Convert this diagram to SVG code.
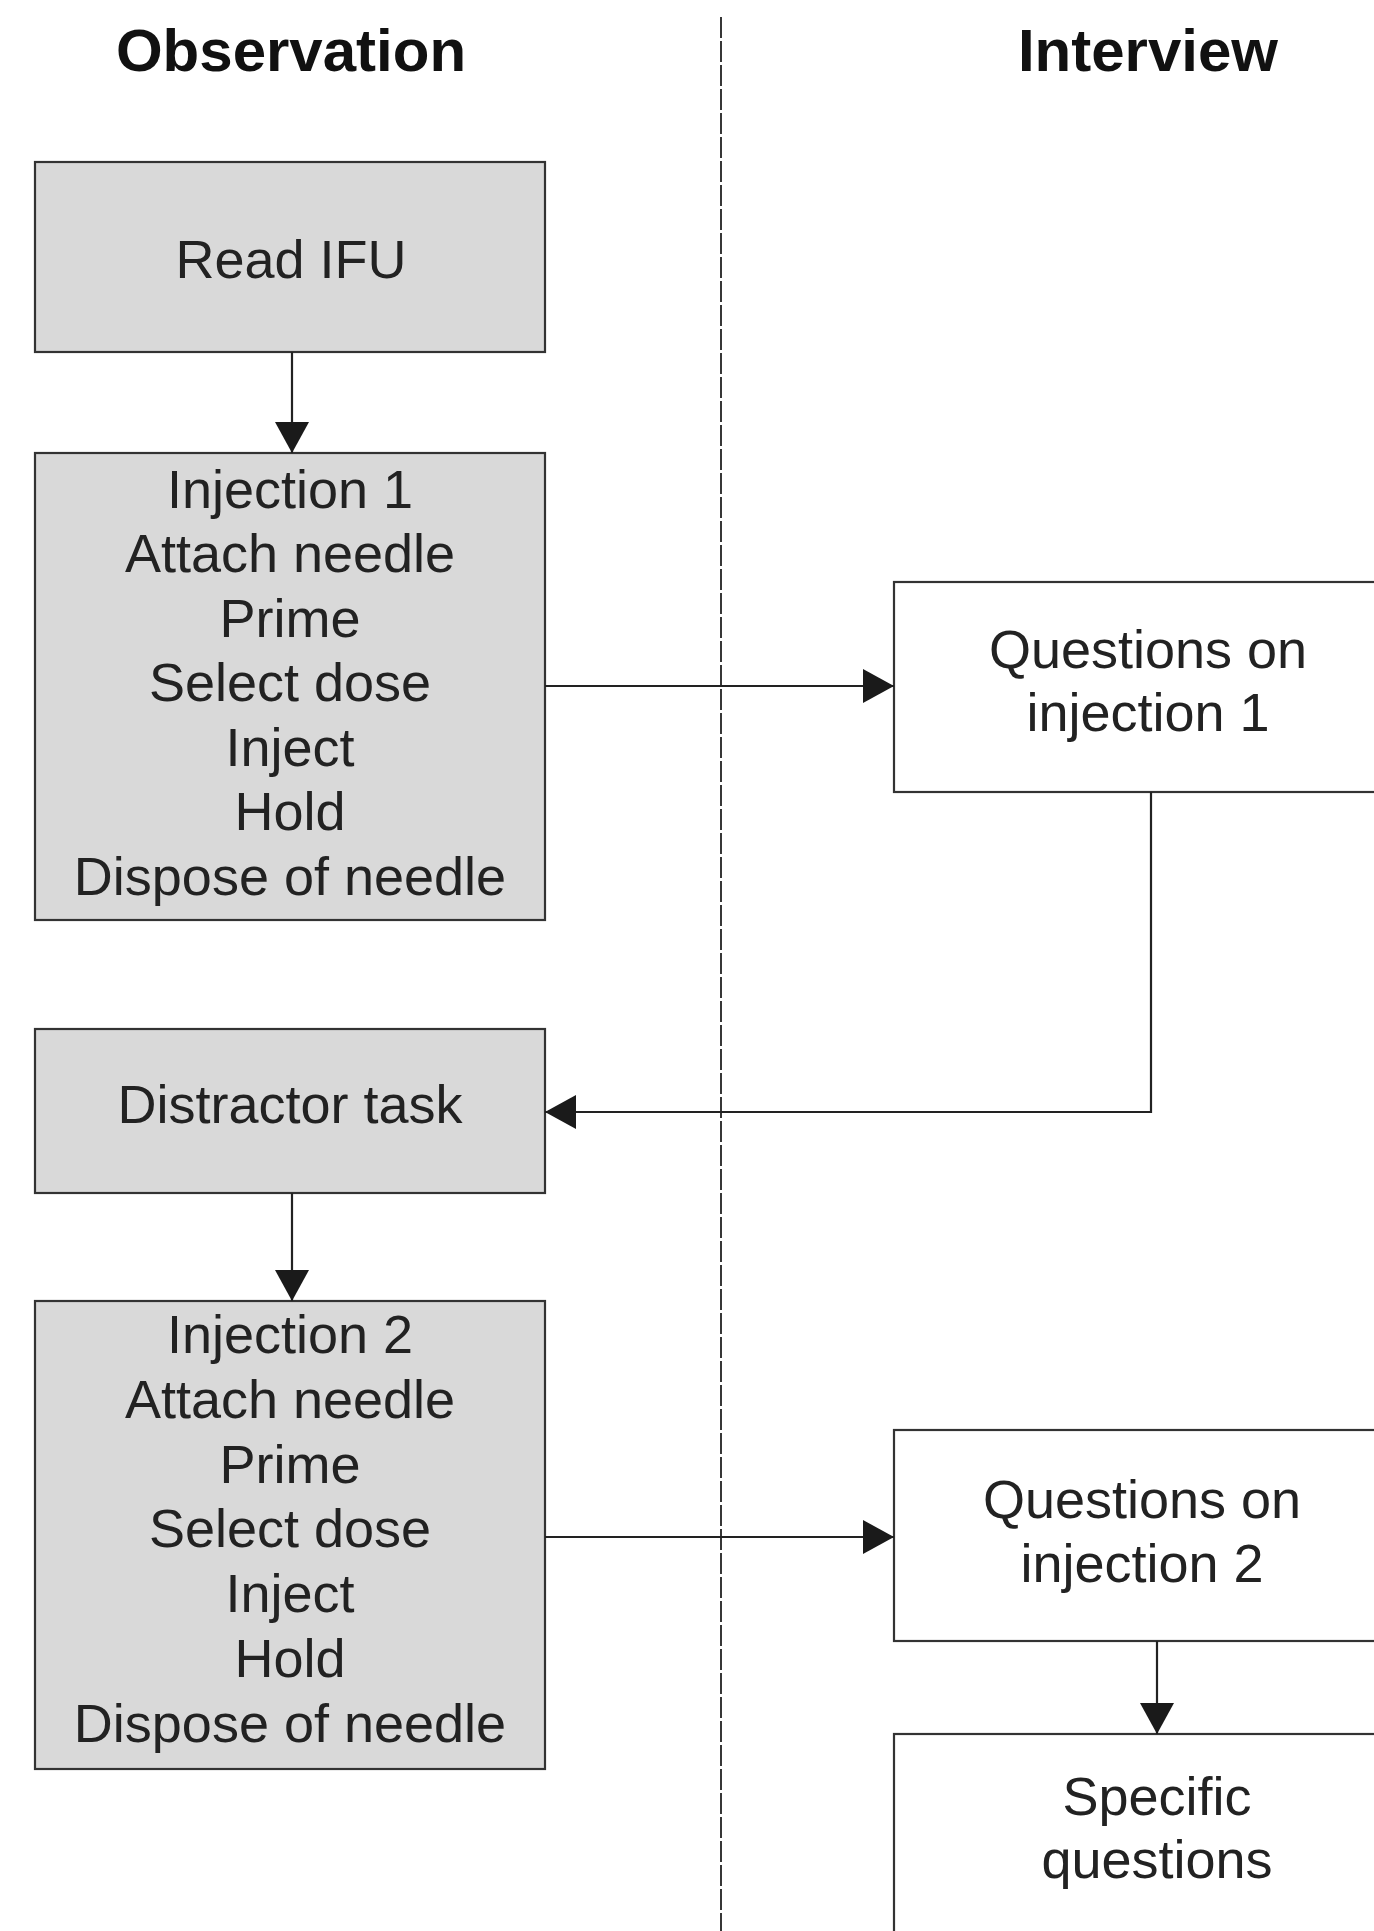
<svg xmlns="http://www.w3.org/2000/svg" width="1374" height="1931" viewBox="0 0 1374 1931">
<style>
.box{fill:#d9d9d9;stroke:#333;stroke-width:2.2}
.wbox{fill:#fff;stroke:#333;stroke-width:2.2}
.t{font-family:"Liberation Sans",Arial,sans-serif;font-size:54px;fill:#222;text-anchor:middle}
.h{font-family:"Liberation Sans",Arial,sans-serif;font-size:60px;font-weight:bold;fill:#111;text-anchor:middle}
.c{fill:none;stroke:#222;stroke-width:2.2}
</style>
<defs>
<marker id="ah" markerUnits="userSpaceOnUse" markerWidth="31" markerHeight="34" refX="31" refY="17" orient="auto">
<path d="M0,0 L31,17 L0,34 z" fill="#1a1a1a"/>
</marker>
</defs>
<rect width="1374" height="1931" fill="#fff"/>
<g id="headers">
<text class="h" x="291" y="71">Observation</text>
<text class="h" x="1148" y="71">Interview</text>
<line x1="721" y1="17" x2="721" y2="1931" stroke="#222" stroke-width="1.8" stroke-dasharray="21 3"/>
</g>
<g id="read-ifu">
<rect class="box" x="35" y="162" width="510" height="190"/>
<text class="t" x="291" y="278">Read IFU</text>
</g>
<g id="injection-1">
<rect class="box" x="35" y="453" width="510" height="467"/>
<text class="t" x="290" y="508">Injection 1</text>
<text class="t" x="290" y="572">Attach needle</text>
<text class="t" x="290" y="637">Prime</text>
<text class="t" x="290" y="701">Select dose</text>
<text class="t" x="290" y="766">Inject</text>
<text class="t" x="290" y="830">Hold</text>
<text class="t" x="290" y="895">Dispose of needle</text>
</g>
<g id="questions-1">
<rect class="wbox" x="894" y="582" width="600" height="210"/>
<text class="t" x="1148" y="668">Questions on</text>
<text class="t" x="1148" y="731">injection 1</text>
</g>
<g id="distractor">
<rect class="box" x="35" y="1029" width="510" height="164"/>
<text class="t" x="290" y="1123">Distractor task</text>
</g>
<g id="injection-2">
<rect class="box" x="35" y="1301" width="510" height="468"/>
<text class="t" x="290" y="1353">Injection 2</text>
<text class="t" x="290" y="1418">Attach needle</text>
<text class="t" x="290" y="1483">Prime</text>
<text class="t" x="290" y="1547">Select dose</text>
<text class="t" x="290" y="1612">Inject</text>
<text class="t" x="290" y="1677">Hold</text>
<text class="t" x="290" y="1742">Dispose of needle</text>
</g>
<g id="questions-2">
<rect class="wbox" x="894" y="1430" width="600" height="211"/>
<text class="t" x="1142" y="1518">Questions on</text>
<text class="t" x="1142" y="1582">injection 2</text>
</g>
<g id="specific">
<rect class="wbox" x="894" y="1734" width="600" height="300"/>
<text class="t" x="1157" y="1815">Specific</text>
<text class="t" x="1157" y="1878">questions</text>
</g>
<g id="connectors">
<line class="c" x1="292" y1="352" x2="292" y2="453" marker-end="url(#ah)"/>
<line class="c" x1="545" y1="686" x2="894" y2="686" marker-end="url(#ah)"/>
<polyline class="c" points="1151,792 1151,1112 545,1112" marker-end="url(#ah)"/>
<line class="c" x1="292" y1="1193" x2="292" y2="1301" marker-end="url(#ah)"/>
<line class="c" x1="545" y1="1537" x2="894" y2="1537" marker-end="url(#ah)"/>
<line class="c" x1="1157" y1="1641" x2="1157" y2="1734" marker-end="url(#ah)"/>
</g>
</svg>
